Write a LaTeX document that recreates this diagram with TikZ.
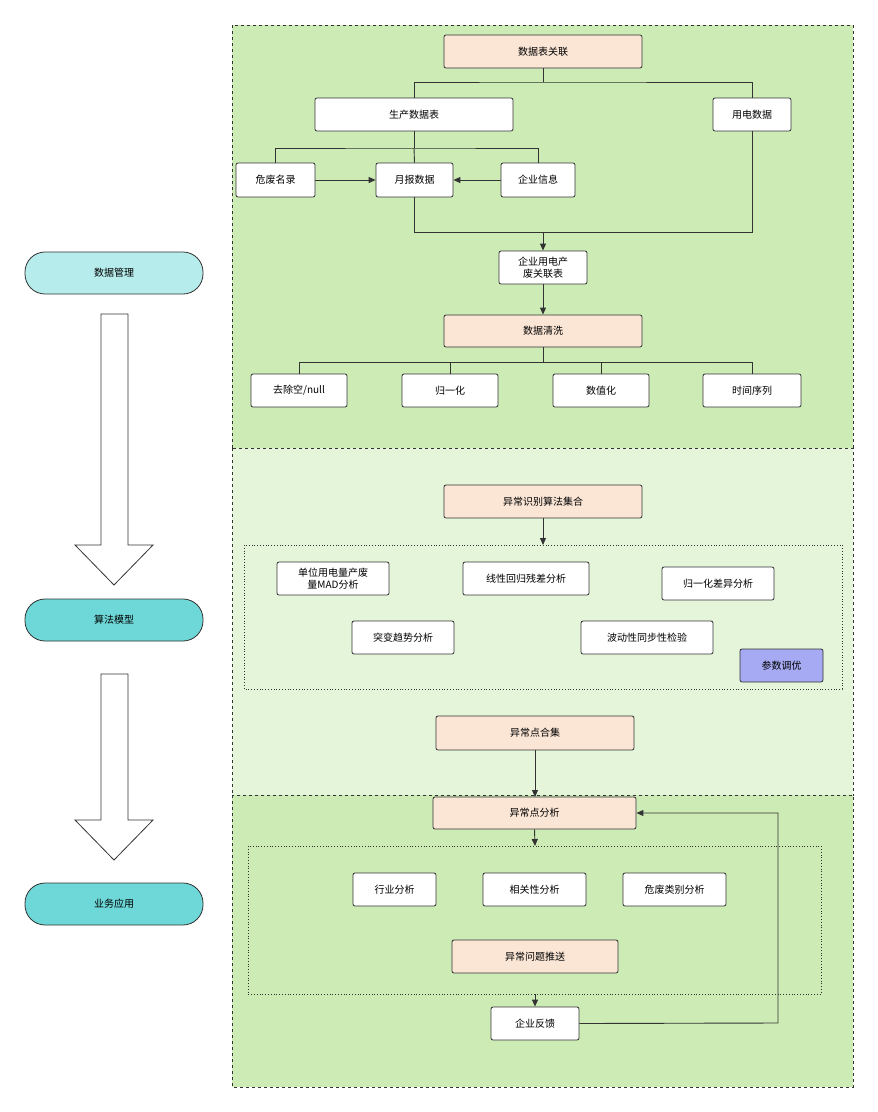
\documentclass[tikz,border=0pt]{standalone}
\usepackage{fontspec}
\setmainfont{Noto Sans CJK SC}
\usetikzlibrary{arrows.meta}
\definecolor{bandA}{HTML}{CCEBB5}
\definecolor{bandB}{HTML}{E5F5DA}
\definecolor{peach}{HTML}{FBE6D6}
\definecolor{lc1}{HTML}{B6ECEB}
\definecolor{lc2}{HTML}{6ED7D7}
\definecolor{tune}{HTML}{A5AAF2}
\definecolor{ln}{HTML}{333333}
\begin{document}
\begin{tikzpicture}[x=1pt,y=-1pt,
  box/.style={draw=ln,fill=white,rounded corners=2pt,line width=0.8pt,font=\fontsize{10}{12}\selectfont,align=center,inner sep=0pt},
  pbox/.style={box,fill=peach},
  band/.style={draw=ln,dashed,line width=0.8pt},
  lab/.style={draw=ln,rounded corners=20pt,line width=0.8pt,font=\fontsize{10}{12}\selectfont,inner sep=0pt},
  con/.style={draw=ln,line width=0.9pt},
  arr/.style={con,-{Triangle[length=7pt,width=6pt]}},
  dot/.style={draw=ln,dotted,line width=0.8pt}]
\useasboundingbox (0,0) rectangle (878,1112);
\fill[white] (0,0) rectangle (878,1112);
% bands
\path[band,fill=bandA] (232,25) rectangle (853,448);
\path[band,fill=bandB] (232,448) rectangle (853,795);
\path[band,fill=bandA] (232,795) rectangle (853,1087);
% helper macro for boxes by corners
\newcommand{\bx}[7]{\node[#1,minimum width=#4-#3,minimum height=#6-#5] (#2) at ({(#3+#4)/2},{(#5+#6)/2}) {#7};}
% left labels
\bx{lab,fill=lc1}{l1}{25}{203}{252}{294}{数据管理}
\bx{lab,fill=lc2}{l2}{25}{203}{599}{641}{算法模型}
\bx{lab,fill=lc2}{l3}{25}{203}{883}{925}{业务应用}
% hollow arrows
\draw[ln,line width=0.8pt,fill=white] (101,314)--(128,314)--(128,545)--(153,545)--(114,585)--(75,545)--(101,545)--cycle;
\draw[ln,line width=0.8pt,fill=white] (101,674)--(128,674)--(128,820)--(153,820)--(114,860)--(75,820)--(101,820)--cycle;
% band 1
\bx{pbox}{sjb}{444}{642}{35}{68}{数据表关联}
\bx{box}{scb}{315}{513}{98}{131}{生产数据表}
\bx{box}{ydb}{713}{791}{98}{131}{用电数据}
\bx{box}{wf}{236}{315}{163}{197}{危废名录}
\bx{box}{yb}{376}{453}{163}{197}{月报数据}
\bx{box}{qy}{501}{575}{163}{197}{企业信息}
\bx{box}{gl}{499}{587}{251}{284}{企业用电产\\废关联表}
\bx{pbox}{qx}{444}{642}{315}{347}{数据清洗}
\bx{box}{c1}{251}{347}{374}{407}{去除空/null}
\bx{box}{c2}{402}{498}{374}{407}{归一化}
\bx{box}{c3}{553}{649}{374}{407}{数值化}
\bx{box}{c4}{703}{801}{374}{407}{时间序列}
\draw[con] (sjb.south) -- (543,82);
\draw[con] (scb.north) |- (543,82) -| (ydb.north);
\draw[con] (scb.south) -- (414,148);
\draw[con] (wf.north) |- (414,148) -| (qy.north);
\draw[con] (414,148) -- (yb.north);
\draw[arr] (wf.east) -- (yb.west);
\draw[arr] (qy.west) -- (yb.east);
\draw[con] (yb.south) |- (752,232) -- (ydb.south);
\draw[arr] (543,232) -- (gl.north);
\draw[arr] (gl.south) -- (qx.north);
\draw[con] (qx.south) -- (543,362);
\draw[con] (c1.north) |- (752,362) -- (c4.north);
\draw[con] (c2.north) -- (450,362);
\draw[con] (c3.north) -- (601,362);
% band 2
\bx{pbox}{sf}{444}{642}{485}{518}{异常识别算法集合}
\coordinate (d1t) at (543,545);
\draw[dot] (244,545) rectangle (842,689);
\draw[arr] (sf.south) -- (d1t);
\bx{box}{a1}{277}{389}{562}{595}{单位用电量产废\\量MAD分析}
\bx{box}{a2}{463}{589}{562}{595}{线性回归残差分析}
\bx{box}{a3}{662}{774}{567}{600}{归一化差异分析}
\bx{box}{a4}{352}{454}{621}{654}{突变趋势分析}
\bx{box}{a5}{581}{713}{621}{654}{波动性同步性检验}
\bx{box,fill=tune}{a6}{740}{823}{649}{682}{参数调优}
\bx{pbox}{hj}{436}{634}{716}{750}{异常点合集}
% band 3
\bx{pbox}{fx}{433}{636}{797}{829}{异常点分析}
\draw[arr] (535,750) -- (535,797);
\draw[dot] (248,846) rectangle (821,994);
\coordinate (d2t) at (535,846);
\coordinate (d2b) at (535,994);
\draw[arr] (fx.south) -- (d2t);
\bx{box}{b1}{353}{436}{873}{906}{行业分析}
\bx{box}{b2}{483}{586}{873}{906}{相关性分析}
\bx{box}{b3}{623}{726}{873}{906}{危废类别分析}
\bx{pbox}{ts}{452}{618}{940}{973}{异常问题推送}
\bx{box}{fk}{491}{579}{1007}{1040}{企业反馈}
\draw[arr] (d2b) -- (fk.north);
\draw[arr] (fk.east) -- (778,1023) -- (778,813) -- (fx.east);
\end{tikzpicture}
\end{document}
